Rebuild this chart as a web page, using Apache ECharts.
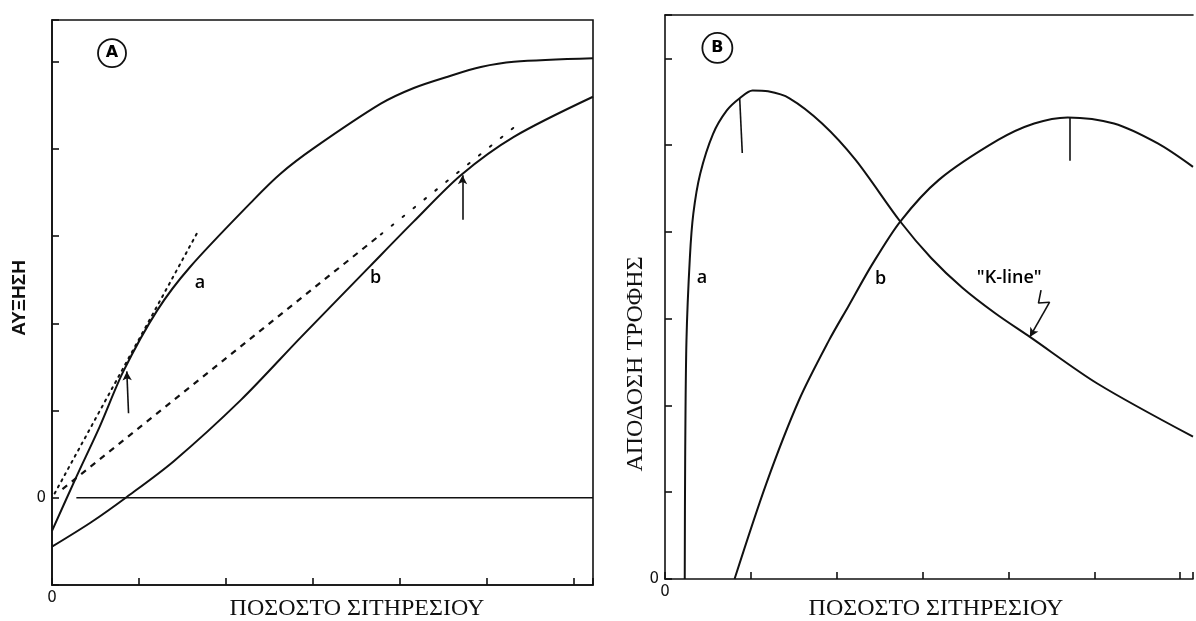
<!DOCTYPE html>
<html>
<head>
<meta charset="utf-8">
<script src="https://cdn.jsdelivr.net/npm/echarts@6/dist/echarts.min.js"></script>
<style>
  html, body { margin: 0; padding: 0; background: #fff; }
  #chart { width: 1196px; height: 621px; }
</style>
</head>
<body>
<div id="chart"></div>
<script>
// ---- Panel A: growth against ration level (0 = maintenance) ----
const growthA_a = [[0, -0.38], [0.28, 0.24], [0.55, 0.82], [0.82, 1.45], [1.21, 2.15], [1.59, 2.65],
  [2.32, 3.42], [2.63, 3.72], [3.01, 4.01], [3.78, 4.52], [4.16, 4.70], [4.55, 4.83], [4.93, 4.94],
  [5.31, 5.00], [6.22, 5.04]];
const growthA_b = [[0, -0.56], [0.45, -0.28], [0.86, 0.01], [1.40, 0.42], [2.17, 1.12], [2.86, 1.84],
  [3.66, 2.66], [4.16, 3.17], [4.70, 3.70], [5.31, 4.14], [6.22, 4.60]];
// tangents drawn from the origin
const tangentA_a = [[0.03, 0.05], [1.67, 3.04]];
const tangentA_b = [[0.12, 0.10], [3.78, 3.02]];
const tangentA_bTail = [[3.78, 3.02], [5.40, 4.32]];
const zeroLineA = [[0.28, 0], [6.22, 0]];
// optimum-ration arrows
const optimumA = [[[0.88, 0.97], [0.86, 1.45]], [[4.72, 3.19], [4.72, 3.70]]];

// ---- Panel B: food conversion efficiency against ration level ----
const yieldB_a = [[0.23, 0], [0.235, 1.4], [0.25, 2.75], [0.29, 3.71], [0.33, 4.21], [0.41, 4.67],
  [0.56, 5.13], [0.72, 5.40], [0.87, 5.54], [1.02, 5.63], [1.20, 5.62], [1.45, 5.54], [1.83, 5.25],
  [2.22, 4.83], [2.74, 4.12], [3.10, 3.70], [3.46, 3.36], [3.85, 3.06], [4.25, 2.79], [5.04, 2.25],
  [6.15, 1.64]];
const yieldB_b = [[0.81, 0], [1.18, 1.10], [1.56, 2.06], [1.91, 2.75], [2.14, 3.15], [2.41, 3.62],
  [2.74, 4.12], [3.19, 4.60], [3.88, 5.06], [4.30, 5.25], [4.69, 5.32], [5.23, 5.25], [5.74, 5.02],
  [6.15, 4.75]];
const optimumB = [[[0.90, 4.91], [0.87, 5.54]], [[4.72, 4.82], [4.72, 5.32]]];
const kLinePointer = [[4.38, 3.33], [4.35, 3.18], [4.48, 3.19]];
const kLineArrow = [[4.48, 3.19], [4.25, 2.79]];

// text annotations [x, y, text]
const curveLabelsA = [[1.70, 2.47, 'a'], [3.72, 2.52, 'b']];
const curveLabelsB = [[0.43, 3.47, 'a'], [2.51, 3.46, 'b'], [4.01, 3.47, '"K-line"']];
const panelTagA = [[0.69, 5.10, 'A']];
const panelTagB = [[0.61, 6.12, 'B']];

const xTitle = 'ΠΟΣΟΣΤΟ ΣΙΤΗΡΕΣΙΟΥ';
const yTitleA = 'ΑΥΞΗΣΗ';
const yTitleB = 'ΑΠΟΔΟΣΗ ΤΡΟΦΗΣ';

const INK = '#111';
const axisStyle = { color: INK, width: 1.6 };

function valueAxis(gridIndex, min, max, extra) {
  return Object.assign({
    type: 'value', gridIndex: gridIndex, min: min, max: max, interval: 1,
    axisLine: { show: true, onZero: false, lineStyle: axisStyle },
    axisTick: { show: true, inside: true, length: 7, lineStyle: axisStyle },
    axisLabel: { formatter: v => (v === 0 ? '0' : ''), color: INK, fontSize: 15,
      fontFamily: 'DejaVu Sans', margin: 6 },
    splitLine: { show: false }
  }, extra || {});
}

function curve(data, xi, yi, style, smooth) {
  return {
    type: 'line', xAxisIndex: xi, yAxisIndex: yi, data: data, showSymbol: false,
    smooth: smooth === undefined ? 0.3 : smooth, silent: true,
    lineStyle: Object.assign({ color: INK, width: 2 }, style || {})
  };
}

function segments(pairs, xi, yi, withArrow) {
  return {
    type: 'line', xAxisIndex: xi, yAxisIndex: yi, data: [], silent: true,
    markLine: {
      silent: true, animation: false,
      symbol: withArrow ? ['none', 'arrow'] : ['none', 'none'], symbolSize: [7, 9],
      label: { show: false },
      lineStyle: { color: INK, width: 1.6, type: 'solid' },
      data: pairs.map(p => [{ coord: p[0] }, { coord: p[1] }])
    }
  };
}

function textMarks(items, xi, yi, size) {
  return {
    type: 'scatter', xAxisIndex: xi, yAxisIndex: yi, symbolSize: 0, silent: true,
    itemStyle: { color: '#fff', opacity: 1 },
    data: items.map(t => ({ value: [t[0], t[1]], name: t[2] })),
    label: { show: true, position: 'inside', formatter: p => p.name, color: '#000', opacity: 1,
      textBorderWidth: 0, fontSize: size, fontWeight: 600, fontFamily: 'Open Sans' }
  };
}

function circledTag(items, xi, yi, size) {
  return {
    type: 'scatter', xAxisIndex: xi, yAxisIndex: yi, symbol: 'circle', symbolSize: size, silent: true,
    itemStyle: { color: 'rgba(0,0,0,0)', borderColor: INK, borderWidth: 1.8, opacity: 1 },
    data: items.map(t => ({ value: [t[0], t[1]], name: t[2] })),
    label: { show: true, position: 'inside', formatter: p => p.name, color: '#000', opacity: 1,
      textBorderWidth: 0, fontSize: 16, fontWeight: 'bold', fontFamily: 'DejaVu Sans' }
  };
}

const chart = echarts.init(document.getElementById('chart'), null, { renderer: 'canvas' });

chart.setOption({
  backgroundColor: '#fff',
  animation: false,
  grid: [
    { left: 52, top: 20, width: 541, height: 565, show: true, borderColor: INK, borderWidth: 1.6,
      backgroundColor: 'transparent' },
    { left: 665, top: 15, width: 531, height: 564 }
  ],
  xAxis: [
    valueAxis(0, 0, 6.22),
    valueAxis(1, 0, 6.15),
    { type: 'value', gridIndex: 1, position: 'top', min: 0, max: 6.15,
      axisLine: { show: true, onZero: false, lineStyle: axisStyle },
      axisTick: { show: false }, axisLabel: { show: false }, splitLine: { show: false } }
  ],
  yAxis: [
    valueAxis(0, -1, 5.48),
    valueAxis(1, 0, 6.5)
  ],
  graphic: [
    { type: 'text', x: 357, y: 609, style: { text: xTitle, fill: INK, font: '24px "Liberation Serif"',
      textAlign: 'center', textVerticalAlign: 'middle' } },
    { type: 'text', x: 936, y: 609, style: { text: xTitle, fill: INK, font: '24px "Liberation Serif"',
      textAlign: 'center', textVerticalAlign: 'middle' } },
    { type: 'text', x: 20, y: 298, rotation: Math.PI / 2,
      style: { text: yTitleA, fill: INK, font: 'bold 19px "Liberation Sans"',
        textAlign: 'center', textVerticalAlign: 'middle' } },
    { type: 'text', x: 636, y: 364, rotation: Math.PI / 2,
      style: { text: yTitleB, fill: INK, font: '24px "Liberation Serif"',
        textAlign: 'center', textVerticalAlign: 'middle' } }
  ],
  series: [
    // panel A
    curve(zeroLineA, 0, 0, { width: 1.6 }, false),
    curve(growthA_a, 0, 0),
    curve(growthA_b, 0, 0),
    curve(tangentA_a, 0, 0, { width: 2, type: [2, 5], cap: 'round' }, false),
    curve(tangentA_b, 0, 0, { width: 2.2, type: [6, 6] }, false),
    curve(tangentA_bTail, 0, 0, { width: 2, type: [2, 12], cap: 'round' }, false),
    segments(optimumA, 0, 0, true),
    textMarks(curveLabelsA, 0, 0, 18),
    circledTag(panelTagA, 0, 0, 28),
    // panel B
    curve(yieldB_a, 1, 1),
    curve(yieldB_b, 1, 1),
    curve(kLinePointer, 1, 1, { width: 1.6 }, false),
    segments(optimumB, 1, 1, false),
    segments([kLineArrow], 1, 1, true),
    textMarks(curveLabelsB, 1, 1, 18),
    circledTag(panelTagB, 1, 1, 30)
  ]
});
</script>
</body>
</html>
